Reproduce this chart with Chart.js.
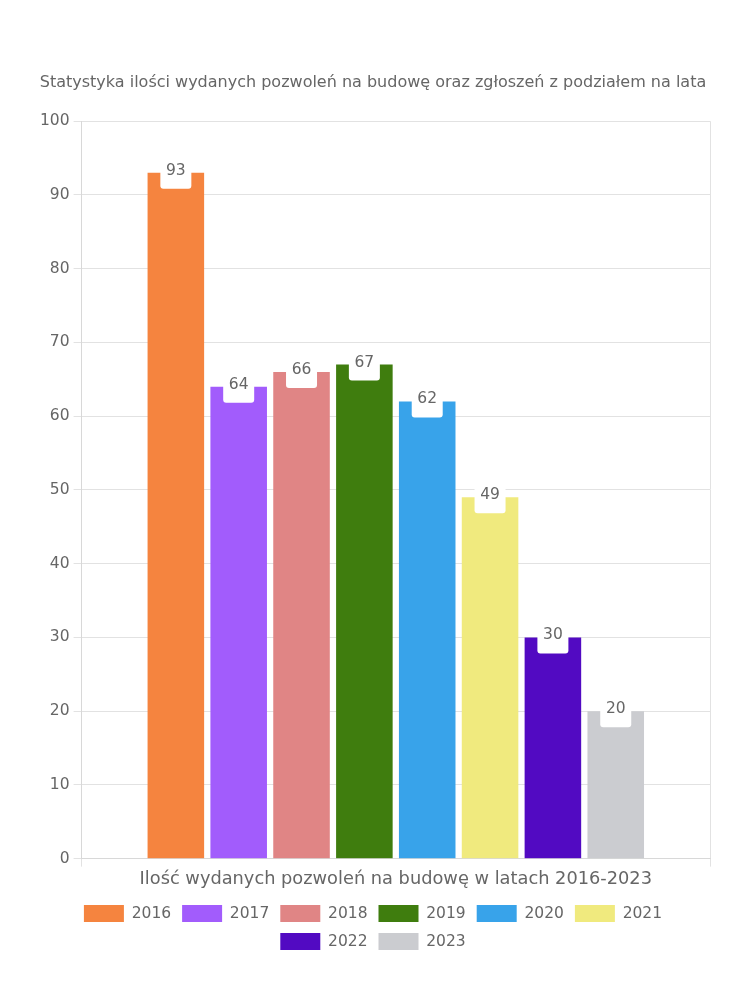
<!DOCTYPE html>
<html><head><meta charset="utf-8">
<script src="https://cdn.jsdelivr.net/npm/chart.js@4/dist/chart.umd.min.js"></script>
<style>html,body{margin:0;padding:0;background:#fff}#wrap{width:750px;height:1000px}</style>
</head><body><div id="wrap"><canvas id="c" width="750" height="1000"></canvas></div>
<script>
const categories = ['Ilość wydanych pozwoleń na budowę w latach 2016-2023'];
const years = ['2016','2017','2018','2019','2020','2021','2022','2023'];
const values = [93, 64, 66, 67, 62, 49, 30, 20];
const colors = ['#F5843F','#A25CFC','#E08585','#3F7D0E','#38A3EA','#F0EA7E','#520AC2','#CBCCD0'];
const yTicks = [0,10,20,30,40,50,60,70,80,90,100];
const titleText = 'Statystyka ilości wydanych pozwoleń na budowę oraz zgłoszeń z podziałem na lata';
const FONT = "'DejaVu Sans', sans-serif";

const labelPlugin = {
  id: 'boxLabels',
  afterDatasetsDraw(chart) {
    const ctx = chart.ctx;
    ctx.save();
    ctx.font = '15.5px ' + FONT;
    ctx.textAlign = 'center';
    ctx.textBaseline = 'middle';
    chart.data.datasets.forEach((ds, i) => {
      const meta = chart.getDatasetMeta(i);
      meta.data.forEach((bar, j) => {
        const txt = String(ds.data[j]);
        const w = 31, h = 30;
        const x = bar.x - w/2, y = bar.y - 14;
        ctx.fillStyle = '#fff';
        ctx.beginPath();
        ctx.roundRect(x, y, w, h, 3);
        ctx.fill();
        ctx.fillStyle = '#666';
        ctx.fillText(txt, bar.x, bar.y - 2);
      });
    });
    ctx.restore();
  }
};

new Chart(document.getElementById('c'), {
  type: 'bar',
  data: {
    labels: categories,
    datasets: years.map((y, i) => ({
      label: y,
      data: [values[i]],
      backgroundColor: colors[i],
      borderWidth: 0
    }))
  },
  options: {
    responsive: false,
    animation: false,
    devicePixelRatio: 1,
    layout: { padding: { top: 73, left: 36, right: 40, bottom: 40 } },
    datasets: { bar: { barPercentage: 0.9, categoryPercentage: 0.8 } },
    plugins: {
      title: { display: true, text: titleText, color: '#666', font: { family: FONT, size: 16, weight: 'normal' }, padding: { top: 0, bottom: 29 } },
      legend: { position: 'bottom', labels: { color: '#666', boxWidth: 40, boxHeight: 17, font: { family: FONT, size: 15.5 }, padding: 11 } },
      tooltip: { enabled: false }
    },
    scales: {
      x: {
        ticks: { display: false },
        grid: { color: '#e2e2e2', tickLength: 8 },
        border: { color: '#d8d8d8' },
        title: { display: true, text: categories[0], color: '#666', font: { family: FONT, size: 17.8 }, padding: { top: 2, bottom: 4 } }
      },
      y: {
        min: 0, max: 100,
        afterBuildTicks(scale) { scale.ticks = yTicks.map(v => ({ value: v })); },
        ticks: { color: '#666', font: { family: FONT, size: 15.5 }, padding: 4 },
        grid: { color: '#e2e2e2', tickLength: 8 },
        border: { color: '#d8d8d8' }
      }
    }
  },
  plugins: [labelPlugin]
});
</script></body></html>
